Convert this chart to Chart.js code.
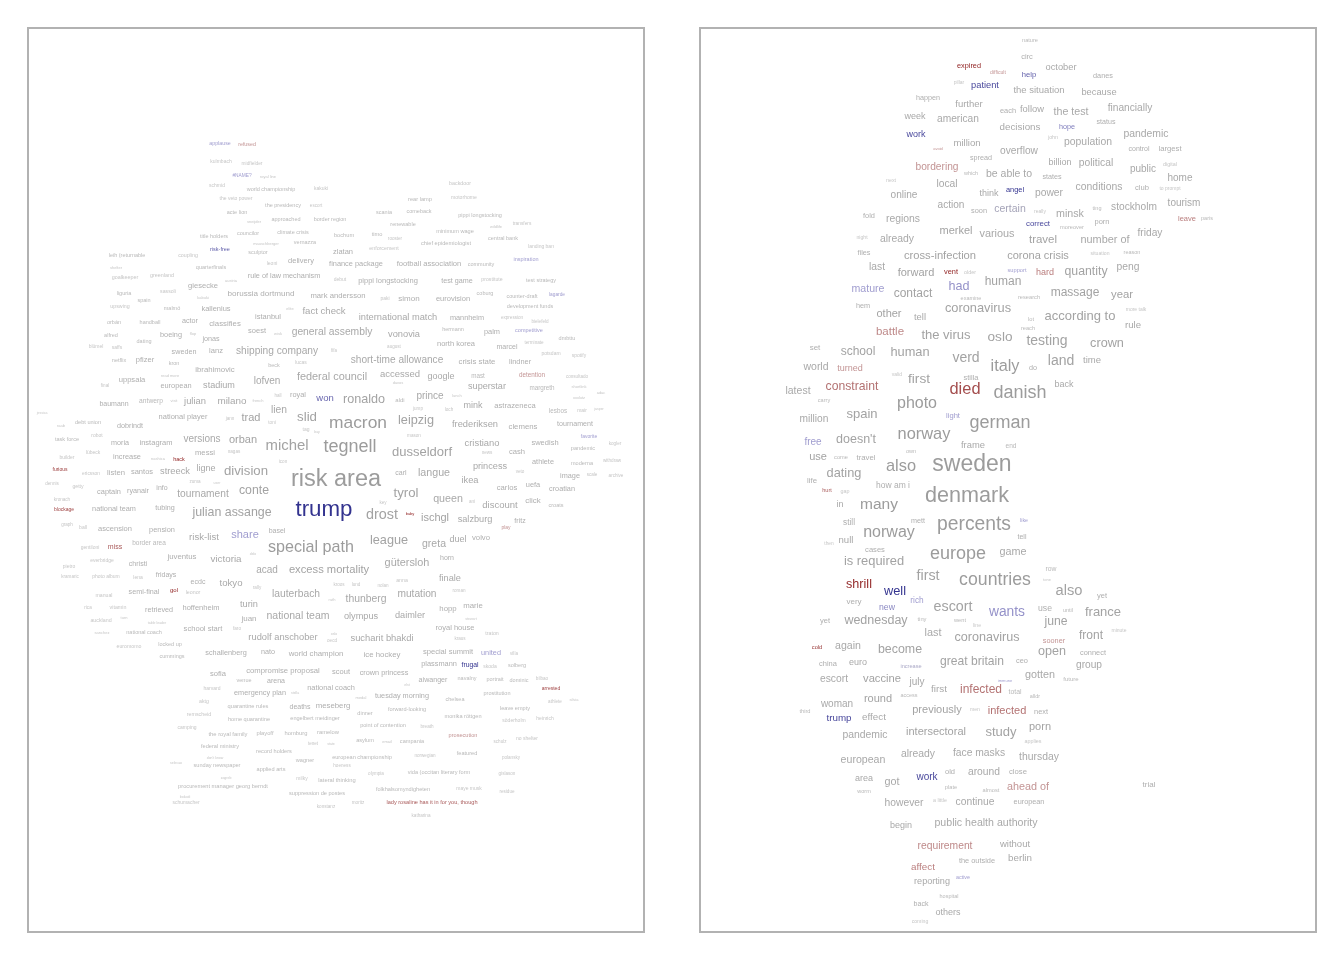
<!DOCTYPE html>
<html><head><meta charset="utf-8">
<script src="https://cdn.jsdelivr.net/npm/chart.js@4.4.1/dist/chart.umd.min.js"></script>
<style>
html,body{margin:0;padding:0;background:#fff;}
#wrap{position:relative;width:1344px;height:960px;overflow:hidden;}
canvas{position:absolute;}
#left{left:27px;top:27px;}
#right{left:699px;top:27px;}
</style></head><body>
<div id="wrap"><canvas id="left" width="618" height="906"></canvas><canvas id="right" width="618" height="906"></canvas></div>
<script>
// ---------- LEFT CLOUD ----------
const leftWords = [
"applause","refused","kulmbach","midfielder","#NAME?","royal line","schmid","world championship","kakuki","the veto power",
"the presidency","escort","acte lion","approached","border region","sneijder","title holders","councilor","climate crisis","vernazza",
"mauschberger","risk-free","sculptor","leih (returnable","coupling","delivery","leoni","quarterfinals","rule of law mechanism","shelter",
"goalkeeper","greenland","giesecke","austria","borussia dortmund","mark andersson","liguria","sassoli","spain","kabuki",
"upswing","malmö","kallenius","elite","fact check","istanbul","orbán","handball","actor","classifies",
"soest","wisk","general assembly","alfred","boeing","flop","jonas","dating","blümel","saffs",
"sweden","lanz","shipping company","lucas","netflix","pfizer","kron","backdoor","rear lamp","motorhome",
"scania","comeback","pippi longstocking","renewable","wildlife","transfers","bochum","timo","minimum wage","rooster",
"chief epidemiologist","central bank","landing ban","zlatan","enforcement","finance package","football association","community","inspiration","debut",
"pippi longstocking","test game","prostitute","test strategy","paki","simon","eurovision","coburg","counter-draft","lagarde",
"development funds","international match","mannheim","expression","bielefeld","vonovia","hermann","palm","competitive","dmbttu",
"fifa","august","north korea","marcel","terminate","potsdam","spotify","short-time allowance","crisis state","lindner",
"ibrahimovic","read more","beck","lofven","federal council","uppsala","final","european","stadium","hall",
"royal","won","baumann","antwerp","visit","julian","milano","french","lien","slid",
"jessica","debt union","raab","dobrindt","national player","jann","trad","toni","tag","bay",
"task force","robot","moria","instagram","versions","orban","michel","lübeck","increase","nashica",
"hack","messi","nagas","icon","builder","furious","ericsson","listen","santos","streeck",
"ligne","division","dennis","getty","captain","ryanair","info","zuma","user","tournament",
"conte","kronach","blockage","national team","tubing","julian assange","graph","ball","ascension","pension",
"risk-list","share","basel","gentiloni","miss","border area","juventus","victoria","delo","special path",
"pietro","everbridge","christi","kramaric","photo album","lena","fridays","ecdc","tokyo","acad",
"excess mortality","rally","accessed","davos","google","mast","detention","consultado","superstar","margreth",
"shortlink","adac","xxxlutz","ronaldo","aldi","prince","lunch","jump","loch","mink",
"astrazeneca","lesbos","mair","jasper","macron","leipzig","frederiksen","clemens","tournament","mason",
"favorite","tegnell","dusseldorf","cristiano","swedish","pandemic","kogler","news","cash","athlete",
"moderna","withdraw","risk area","carl","langue","princess","ikea","veto","image","scale",
"archive","tyrol","carlos","uefa","croatian","key","queen","ani","discount","click",
"croats","trump","drost","baby","ischgl","salzburg","fritz","play","league","greta",
"duel","volvo","horn","gütersloh","anna","finale","kroos","lund","nolan","manual",
"semi-final","gol","leonor","lauterbach","rica","vitamin","retrieved","hoffenheim","turin","auckland",
"turn","table leader","juan","national team","sanchez","national coach","school start","faro","rudolf anschober","euromomo",
"locked up","schallenberg","nato","world champion","cummings","sofia","compromise proposal","venue","arena","harvard",
"emergency plan","stella","national coach","aktg","quarantine rules","deaths","meseberg","remscheid","home quarantine","engelbert meidinger",
"camping","the royal family","playoff","homburg","ramelow","federal ministry","record holders","tenet","don't know","selecao",
"sunday newspaper","wagner","applied arts","zagreb","milky","procurement manager georg berndt","lateral thinking","suppression de postes","bokodi","schumacher",
"konstanz","mutation","roman","ruth","thunberg","hopp","marie","olympus","daimler","stewart",
"royal house","traton","oslo","oecd","sucharit bhakdi","kraus","ice hockey","special summit","united","villa",
"plassmann","frugal","skoda","solberg","scout","crown princess","aiwanger","navalny","portrait","dominic",
"bilbao","elst","arrested","prostitution","athlete","silvia","tuesday morning","medal","chelsea","dinner",
"forward-looking","monika röttgen","leave empty","söderholm","heinrich","point of contention","breath","prosecution","asylum","email",
"campania","schulz","no shelter","state","european championship","norwegian","featured","polansky","hoeness","olympia",
"vida (occitan literary form","gislason","folkhalsomyndigheten","maye musk","residue","moritz","lady rosaline has it in for you, though","katharina"
];
const leftX = [
220,247,221,252,242,268,217,271,321,236,
283,316,237,286,330,254,214,248,293,305,
266,220,258,127,188,301,272,211,284,116,
125,162,203,231,261,338,124,168,144,203,
120,172,216,290,324,268,114,150,190,225,
257,278,332,111,171,193,211,144,96,117,
184,216,277,301,119,145,174,460,420,464,
384,419,480,403,496,522,344,377,455,395,
446,503,541,343,384,356,429,481,526,340,
388,457,492,541,385,409,453,485,522,557,
530,398,467,512,540,404,453,492,529,567,
334,394,456,507,534,551,579,397,477,520,
215,170,274,267,332,132,105,176,219,278,
298,325,114,151,174,195,232,258,279,307,
42,88,61,130,183,230,251,272,306,317,
67,97,120,156,202,243,287,93,127,158,
179,205,234,283,67,60,91,116,142,175,
206,246,52,78,109,138,162,195,217,203,
254,62,64,114,165,232,67,83,115,162,
204,245,277,90,115,149,182,226,253,311,
69,102,138,70,106,138,166,198,231,267,
329,257,400,398,441,478,532,577,487,542,
579,601,579,364,400,430,457,418,449,473,
515,558,582,599,358,416,475,523,575,414,
589,350,422,482,545,583,615,487,517,543,
582,612,336,401,434,490,470,520,570,592,
616,406,507,533,562,383,448,472,500,533,
556,324,382,410,435,475,520,506,389,434,
458,481,447,407,402,450,339,356,383,104,
144,174,193,296,88,118,159,201,249,101,
124,157,249,298,102,144,203,237,283,129,
170,226,268,316,172,218,283,244,276,212,
260,295,331,204,248,300,333,199,249,315,
187,228,265,296,328,220,274,313,215,176,
217,305,271,226,302,223,337,317,185,186,
326,417,459,332,366,448,473,361,410,471,
455,492,334,332,382,460,382,448,491,514,
439,470,490,517,341,384,433,467,495,519,
542,407,551,497,555,574,402,361,455,365,
407,463,515,514,545,383,427,463,365,387,
412,500,527,331,362,425,467,511,342,376,
439,507,403,469,507,358,432,421
];
const leftY = [
144,145,162,164,176,177,186,190,189,199,
206,206,213,220,220,222,237,234,233,243,
244,250,253,256,256,261,264,268,276,268,
278,276,286,281,294,296,294,292,301,298,
307,309,309,309,311,317,323,323,321,324,
331,334,332,336,335,334,339,342,347,348,
352,351,351,363,361,360,364,184,199,198,
213,212,216,225,227,224,235,234,231,239,
243,239,247,252,249,264,264,265,260,280,
281,281,280,281,299,299,299,294,297,295,
307,317,318,318,322,334,330,332,331,339,
351,347,344,347,343,354,356,360,362,362,
370,376,366,381,377,380,386,386,386,396,
395,398,404,401,401,401,401,401,410,417,
413,422,426,426,417,419,418,423,430,432,
439,436,443,443,439,440,446,453,457,459,
460,453,452,462,458,470,474,473,472,471,
469,471,484,487,492,491,488,482,483,494,
491,500,510,509,508,513,525,528,529,530,
537,535,531,548,547,543,557,559,554,548,
567,561,564,577,577,578,575,582,583,570,
570,588,374,383,377,376,375,377,387,388,
387,393,398,400,400,396,396,409,410,406,
406,411,411,409,423,421,424,427,424,436,
437,447,452,443,443,448,444,453,452,462,
463,461,480,473,473,467,480,472,476,475,
476,493,488,485,489,503,499,502,505,501,
506,510,515,514,518,520,521,528,541,544,
540,538,558,563,581,579,585,585,586,596,
592,590,593,594,608,608,610,608,605,621,
618,623,619,616,633,633,629,629,637,647,
645,653,652,654,657,674,671,681,681,689,
693,693,688,702,706,707,706,715,719,718,
728,734,733,733,732,746,751,744,758,763,
765,760,769,778,779,786,780,793,797,803,
807,594,591,600,599,609,606,617,616,619,
628,634,634,641,638,639,655,652,653,654,
664,665,667,666,672,673,680,679,680,681,
679,685,689,694,702,700,696,698,700,714,
709,716,708,721,719,725,727,735,740,742,
741,742,739,744,757,756,753,758,766,774,
772,774,789,789,792,803,802,816
];
const leftFreq = [
5.3,5.3,5,4.8,4.8,4,5,5.5,5,5,
5.5,4.5,5.5,5.5,5.5,4,5.5,5.5,5.5,5.5,
4,5.5,5.5,5.5,5.3,7.5,5,5.5,7.3,4,
5.4,5.4,7.6,4,8.1,7.7,5.5,5.2,5.5,4,
5.3,5.5,7.5,4,9.6,7.5,5.5,5.5,7.2,7.8,
7.5,4,10.3,5.5,7.3,4,7.2,5.5,5,5,
7.2,7.6,10.2,5,5.5,7.5,5.5,5.3,5.7,5.1,
5.5,5.5,5.5,5.5,4,4.8,5.7,5.7,5.6,4.6,
5.7,5.5,5,7.5,5.3,7.4,7.6,5.5,5.5,5,
7.5,7.2,5.2,5.5,5,8,7.5,5.5,5.5,4.8,
5.5,9.3,7.3,4.6,4.6,9.3,5.5,7.4,5.5,5.5,
4.5,4.6,7.5,7,4.6,5,5,10.1,7.8,7.4,
7.8,4,5.5,10,10.9,7.6,4.6,7.4,9.1,4.6,
7.4,9.5,7,6.7,4,9.4,9.9,4,10.3,13.3,
3.5,5.6,4,7.2,7.5,4.6,11,4.6,5,3.5,
5.6,5,7.2,7.5,10,11,14.9,5,7.4,4,
5.5,7.7,4.6,4.6,5,5,4.8,7.7,7.5,9.3,
9,13.2,4.6,5.2,7.4,7.2,7,4.6,3.5,10.2,
12.3,4.6,5,7.3,7.2,12.4,4.6,5,7.5,7.4,
9.6,11,7,5,7,6.5,7.8,9.8,3.5,16.1,
5,5,7,4.6,5,5,7,7,9.6,10,
11.2,4.6,9.5,4,9,6.3,6.3,4.6,9.1,6.3,
4,4,4,12.6,6,10,4,4.6,4.6,9,
7.6,6.3,5,3.5,17.4,12.7,9.3,7.8,7.1,4.6,
5,18,13,9.4,7.5,5.6,4.6,4.6,7.6,7.3,
5.6,4.6,23.5,7,10.7,9.2,9.3,4.6,7.3,4.6,
4.6,13.2,7.7,7.4,7.3,4.6,10.7,4.6,9.5,7.9,
5.5,22.3,14.4,4,11,9.2,7,5,12.7,10.5,
9,7.7,7,10.9,5.2,9.2,4.6,4.6,4.6,5.2,
7.2,6,5.3,10.3,4.6,5.3,7.2,7.5,9.2,5.3,
4,3.5,8,10.5,4,5.5,7.6,4.6,9.3,5.2,
5.5,7.3,7.2,7.8,5.5,7.6,7.7,5.5,7,5,
7.3,3.5,7.4,5.2,5.7,7,7.8,5.3,5.6,5.6,
5,5.8,5.8,5.8,5.8,5.6,5.6,4.6,3.5,3.5,
5.6,5.6,5.6,3.5,5,5.7,5.8,5.6,3.5,5,
4.6,10.2,4.6,4,10.4,7.8,7.8,9.2,9.2,3.5,
7.5,5.3,3.5,4.6,9.4,4.6,7.8,7.6,7.3,4.6,
7.4,6.8,5,5.5,7.5,7.3,7.1,5.5,5.5,5.5,
4.6,3.5,5,5.5,4.6,4,7.3,4,5.5,5.5,
5.6,5.6,5.6,5,5,5.6,4.6,5.6,5.6,4,
5.6,4.6,5,3.5,5.6,4.6,5.6,4.6,4.6,4.6,
5.6,4.6,5.6,5,4.6,4.6,5.6,4.6
];
// sentiment tone: >0 positive (blue), <0 negative (red)
const leftTone = {"applause":1,"refused":-1,"#NAME?":1,"risk-free":1.6,"inspiration":1,"lagarde":1,"competitive":1,
"won":1.5,"hack":-2,"furious":-1.8,"blockage":-1.7,"miss":-1.5,"share":1,"gol":-2,"detention":-1,"favorite":1,
"trump":2,"baby":-2,"play":-1,"united":1,"frugal":2,"arrested":-1.7,"prosecution":-1,
"lady rosaline has it in for you, though":-1.5};

// ---------- RIGHT CLOUD ----------
const rightWords = [
"nature","circ","october","expired","difficult","help","danes","pillar","patient","the situation",
"because","happen","further","each","follow","the test","financially","week","american","decisions",
"hope","status","work","million","john","population","pandemic","avoid","overflow","control",
"largest","spread","billion","political","bordering","public","digital","which","be able to","states",
"home","next","local","angel","power","conditions","club","to prompt","think","online",
"action","soon","certain","really","minsk","ting","stockholm","tourism","fold","regions",
"correct","moreover","porn","leave","paris","merkel","various","night","already","travel",
"number of","friday","files","cross-infection","corona crisis","situation","reason","last","forward","vent",
"older","support","hard","quantity","peng","human","mature","contact","had","examine",
"research","massage","year","hem","other","tell","coronavirus","more talk","lot","according to",
"rule","reach","battle","the virus","oslo","testing","crown","set","school","human",
"verd","italy","land","time","world","turned","valid","first","stilla","do",
"latest","constraint","died","danish","back","carry","photo","million","spain","light",
"german","free","doesn't","norway","frame","end","use","come","travel","own",
"also","sweden","dating","life","hurt","gap","how am i","denmark","in","many",
"still","mett","percents","like","tell","norway","null","then","cases","europe",
"game","is required","first","countries","row","tone","also","shrill","well","yet",
"very","rich","new","escort","wants","use","until","france","june","yet",
"wednesday","tiny","went","last","line","coronavirus","sooner","front","minute","cold",
"again","become","open","connect","china","euro","increase","great britain","ceo","group",
"escort","vaccine","july","immune","gotten","future","first","infected","total","alldr",
"access","round","woman","third","previously","men","infected","next","trump","effect",
"porn","study","pandemic","intersectoral","applies","already","face masks","thursday","european","close",
"around","old","work","area","got","plate","almost","ahead of","worm","however",
"a little","continue","european","trial","begin","public health authority","requirement","without","the outside","berlin",
"affect","reporting","active","hospital","back","others","coming"
];
const rightX = [
1030,1027,1061,969,998,1029,1103,959,985,1039,
1099,928,969,1008,1032,1071,1130,915,958,1020,
1067,1106,916,967,1053,1088,1146,938,1019,1139,
1170,981,1060,1096,937,1143,1170,971,1009,1052,
1180,891,947,1015,1049,1099,1142,1170,989,904,
951,979,1010,1040,1070,1097,1134,1184,869,903,
1038,1072,1102,1187,1207,956,997,862,897,1043,
1105,1150,864,940,1038,1100,1132,877,916,951,
970,1017,1045,1086,1128,1003,868,913,959,971,
1029,1075,1122,863,889,920,978,1136,1031,1080,
1133,1028,890,946,1000,1047,1107,815,858,910,
966,1005,1061,1092,816,850,897,919,971,1033,
798,852,965,1020,1064,824,917,814,862,953,
1000,813,856,924,973,1011,818,841,866,911,
901,972,844,812,827,845,893,967,840,879,
849,918,974,1024,1022,889,846,829,875,958,
1013,874,928,995,1051,1047,1069,859,895,1102,
854,917,887,953,1007,1045,1068,1103,1056,825,
876,922,960,933,977,987,1054,1091,1119,817,
848,900,1052,1093,828,858,911,972,1022,1089,
834,882,917,1005,1040,1071,939,981,1015,1035,
909,878,837,805,937,975,1007,1041,839,874,
1040,1001,865,936,1033,918,979,1039,863,1018,
984,950,927,864,892,951,991,1028,864,904,
940,975,1029,1149,901,986,945,1015,977,1020,
923,932,963,949,921,948,920
];
const rightY = [
40,57,67,66,73,75,76,83,85,90,
92,98,104,111,109,112,108,117,119,127,
127,122,135,143,138,142,134,149,151,149,
149,158,163,163,167,169,165,174,174,177,
178,181,184,190,193,187,188,189,194,195,
205,211,209,212,214,209,207,203,216,219,
224,227,222,219,219,231,234,238,239,240,
240,233,253,256,256,254,253,267,273,272,
273,270,273,272,267,282,289,294,287,299,
297,293,295,306,314,317,309,310,319,316,
325,328,332,335,337,341,344,348,352,353,
358,367,361,360,367,369,375,379,378,368,
391,387,390,393,385,400,404,419,414,416,
423,442,440,435,445,446,457,457,458,452,
467,465,474,481,491,492,486,496,505,505,
523,521,525,521,537,533,540,544,550,554,
552,562,576,580,569,580,591,585,592,596,
602,601,608,607,612,609,611,612,622,621,
621,619,620,633,626,638,641,636,631,647,
646,650,652,653,664,663,666,662,661,665,
679,679,682,681,675,679,689,690,692,697,
696,699,704,711,710,710,711,712,718,717,
727,732,735,732,742,754,753,757,760,772,
772,772,777,779,782,787,790,787,792,803,
801,802,802,785,826,823,846,844,861,858,
867,882,878,897,904,913,922
];
const rightFreq = [
5.6,7.5,9.3,7.3,5.1,7.6,7.3,5,9.3,9.5,
9.3,7.2,9.5,7.4,9.4,10.7,10.2,9,10.2,9.8,
7.2,7.1,9,9.6,5.3,10.4,10.4,4,10.2,7,
7.7,7.2,9,10.3,10.2,10,5.4,5.5,10.5,7.2,
10,5.3,10.3,7.4,10.3,10.4,7.6,5,9,10.1,
10.1,7.4,10.5,5,10.7,5.5,10.2,10,7.4,10.4,
7.9,5.7,7.5,7.5,5.5,11,10.9,5.2,10.4,11.5,
10.9,10.2,7.3,11.2,11,5.1,5.5,10.3,11,7.4,
5.4,5.7,9,12.3,10.3,12,10.6,12,12.6,5.5,
5.7,12,11.3,7.3,11,9.4,12.8,5,5.7,13,
9.6,5.6,11.5,13,13.6,14,12.7,8,12,12.8,
14,16.3,14,9.5,10.5,9,5,13.7,7.5,7.2,
10.5,12.2,16.4,18,9,5.6,16,10.2,13,7.6,
18,10,12.5,16.4,9.4,6.6,11,5.7,7.8,5.5,
16.4,23,12.8,7.8,5.5,5.4,8.5,21.6,9,15.5,
8.3,7.2,19.3,5.3,7,16,9.6,4.8,7.6,18,
10.8,12.9,14.3,17.7,6.8,4,14.7,12.6,12.8,7.5,
8,8.3,8.7,14.3,13.8,8.7,5.5,13,12.2,7.5,
12.5,5.8,5.7,10.9,5.1,12.6,7.3,12,5,5.7,
10.6,12.4,12.6,7.4,7.5,9,5.6,12.1,7.4,10.2,
10.3,11.2,10,4,10.8,6,9.9,12,6.9,5.5,
5.5,11,10,5.7,11,5.1,11,7.4,9.8,9.8,
11,13,10.4,11,5.4,10.4,10.3,10.4,10.6,7.7,
10.3,7.5,10,9,10.8,5.7,5.7,10.8,5.5,10.3,
5.3,10.3,7.3,8,9,10.6,10.3,9.5,7.4,9.8,
9.8,9.1,5.4,5.5,7,9,5.2
];
const rightTone = {"expired":-2,"difficult":-1,"help":1.6,"patient":1.8,"hope":1.3,"work":1.8,"avoid":-1,"bordering":-1,
"angel":2,"certain":0.4,"correct":1.8,"leave":-1.2,"vent":-2,"support":1,"hard":-1.2,"mature":1,"had":1.1,
"battle":-1.1,"turned":-1,"constraint":-1.3,"died":-1.6,"light":1,"free":1,"hurt":-1.5,"like":1,"shrill":-1.9,
"well":2,"rich":1,"new":1.2,"wants":1.1,"sooner":-1,"cold":-1.8,"increase":0.6,"immune":1,"infected":-1.3,
"trump":1.8,"ahead of":-1,"requirement":-1.1,"affect":-1.2,"active":1};

// ---------- rendering ----------
function hex(c){return [parseInt(c.slice(1,3),16),parseInt(c.slice(3,5),16),parseInt(c.slice(5,7),16)];}
function mix(a,b,f){const A=hex(a),B=hex(b);return 'rgb('+A.map((v,i)=>Math.round(v+(B[i]-v)*f)).join(',')+')';}
function toHex(rgb){const m=rgb.match(/\d+/g).map(Number);return '#'+m.map(v=>v.toString(16).padStart(2,'0')).join('');}
function grayFor(s){
  if(s>=15) return '#9c9c9c';
  if(s>=11) return '#a3a3a3';
  if(s>=9) return '#a9a9a9';
  if(s>=7) return '#afafaf';
  if(s>=5.5) return '#b9b9b9';
  return '#c6c6c6';
}
const LAV='#a09dcf', NAVY='#33338f', ROSE='#c39595', CRIMSON='#8f1f1f';
function colorFor(s,t){
  const g=grayFor(s);
  if(!t) return g;
  if(t>0) return t<=1 ? mix(g,LAV,t) : mix(LAV,NAVY,t-1);
  const a=-t; return a<=1 ? mix(g,ROSE,a) : mix(ROSE,CRIMSON,a-1);
}

function buildCloud(id, words, xs, ys, freq, tones, xMin, xMax){
  const data = words.map((w,i)=>({x: xs[i], y: ys[i]}));
  const cloudPlugin = {
    id:'cloud',
    afterDatasetsDraw(chart){
      const ctx=chart.ctx, sx=chart.scales.x, sy=chart.scales.y, ca=chart.chartArea;
      ctx.save();
      ctx.textAlign='center'; ctx.textBaseline='alphabetic';
      chart.data.datasets[0].data.forEach((p,i)=>{
        const s=freq[i];
        const px=sx.getPixelForValue(p.x), py=sy.getPixelForValue(p.y);
        ctx.font=s+'px "Liberation Sans", Arial, sans-serif';
        ctx.fillStyle=colorFor(s, tones[words[i]]||0);
        ctx.fillText(words[i], px, py + s*0.27);
      });
      ctx.strokeStyle='#b2b2b2'; ctx.lineWidth=2;
      ctx.strokeRect(ca.left+1, ca.top+1, ca.width-2, ca.height-2);
      ctx.restore();
    }
  };
  return new Chart(document.getElementById(id), {
    type:'scatter',
    data:{datasets:[{data, pointRadius:0, pointHoverRadius:0, showLine:false}]},
    options:{
      responsive:false, animation:false, devicePixelRatio:1, events:[],
      layout:{padding:0},
      plugins:{legend:{display:false}, tooltip:{enabled:false}},
      scales:{
        x:{type:'linear', min:xMin, max:xMax, display:false},
        y:{type:'linear', min:27, max:933, reverse:true, display:false}
      }
    },
    plugins:[cloudPlugin]
  });
}
buildCloud('left', leftWords, leftX, leftY, leftFreq, leftTone, 27, 645);
buildCloud('right', rightWords, rightX, rightY, rightFreq, rightTone, 699, 1317);
</script>
</body></html>
